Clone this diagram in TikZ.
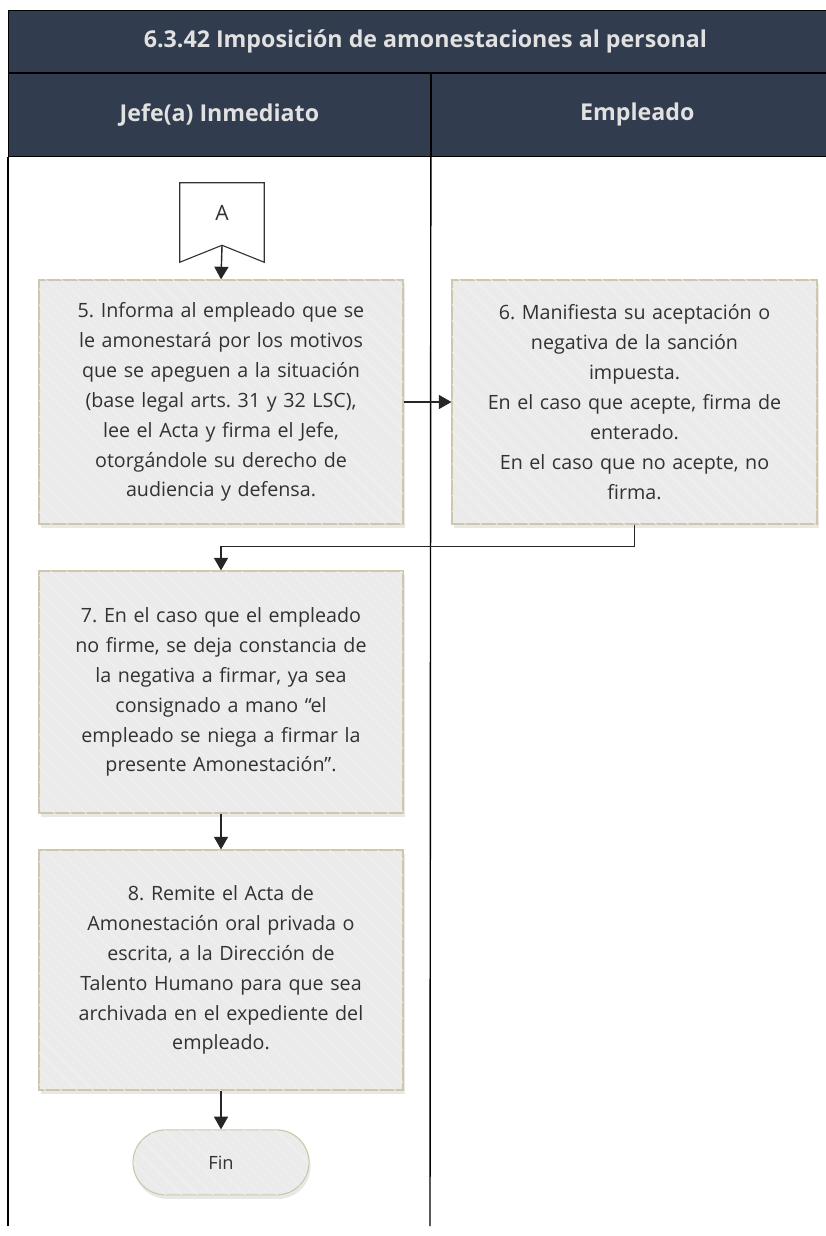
\documentclass[tikz,border=0pt]{standalone}
\usepackage{fontspec}
\setmainfont{Open Sans}
\usepackage{tikz}
\usetikzlibrary{calc}
\usetikzlibrary{arrows.meta}
\usetikzlibrary{positioning,shapes.misc,shadows}
\usetikzlibrary{patterns.meta}
\frenchspacing
\definecolor{hdrblue}{RGB}{49,60,78}
\definecolor{hdrtext}{RGB}{225,225,225}
\definecolor{boxfill}{RGB}{235,235,235}
\definecolor{boxline}{RGB}{206,199,172}
\definecolor{txtgray}{RGB}{50,50,50}
\tikzset{
    hdrband/.style={
        draw=black,
        line width=0.6pt,
        fill=hdrblue,
        text=hdrtext,
        anchor=north west,
        inner sep=0pt,
        font=\bfseries\fontsize{16.5}{20}\selectfont
    },
    % cajas de actividad
    actbox/.style={
        draw=boxline,
        line width=0.8pt,
        fill=boxfill,
        minimum width=9.1cm,
        minimum height=6.1cm,
        text width=8.8cm,
        align=center,
        inner sep=0pt,
        text=txtgray,
        font=\fontsize{14}{21.3}\selectfont,
        drop shadow={opacity=0.18, shadow xshift=0.04cm, shadow yshift=-0.1cm},
        postaction={pattern={Lines[angle=-45,distance=8pt,line width=0.5pt]}, pattern color=white!35!boxfill}
    },
    finbox/.style={
        rounded rectangle,
        draw=boxline,
        line width=0.8pt,
        fill=boxfill,
        minimum width=4.4cm,
        minimum height=1.625cm,
        inner sep=0pt,
        text=txtgray,
        font=\fontsize{13}{16}\selectfont,
        drop shadow={opacity=0.18, shadow xshift=0.04cm, shadow yshift=-0.1cm},
        postaction={pattern={Lines[angle=-45,distance=8pt,line width=0.5pt]}, pattern color=white!35!boxfill}
    },
    flowarrow/.style={
        line width=1pt,
        black!85,
        -{Triangle[length=9pt, width=10pt]}
    }
}

\begin{document}
\begin{tikzpicture}
        \useasboundingbox (0,0) rectangle (20.65,-30.9);

        % piscina y carriles
        \node[hdrband, minimum width=20.85cm, minimum height=1.55cm] (title) at (0.2,-0.25)
            {6.3.42 Imposición de amonestaciones al personal};
        \node[hdrband, minimum width=10.55cm, minimum height=2.075cm] (lanejefe) at (title.south west)
            {Jefe(a) Inmediato};
        \node[hdrband, minimum width=10.3cm, minimum height=2.075cm] (laneemp) at (lanejefe.north east)
            {Empleado};

        \path
        (0.2,-30.65) coordinate (jefeend)
        (10.75,-30.65) coordinate (empend)
        ;
        \draw[line width=1pt, black] (lanejefe.south west) -- (jefeend);
        \draw[line width=1pt, black] (lanejefe.south east) -- (empend);

        % conector A
        \node[minimum width=2.1cm, minimum height=1.975cm, inner sep=0pt] (conA) at (5.55,-5.5625) {};
        \path ($(conA.south)+(0,0.425)$) coordinate (notch);
        \draw[line width=0.8pt, black!80, fill=white]
            (conA.north west) -- (conA.north east) -- (conA.south east)
            -- (notch) -- (conA.south west) -- cycle;
        \node[text=txtgray, font=\fontsize{15}{18}\selectfont] (conAlbl) at ($(conA.center)+(0,0.25)$) {A};

        \node[actbox] (act5) at (5.525,-10.05)
            {5. Informa al empleado que se\\le amonestará por los motivos\\que se apeguen a la situación\\(base legal arts. 31 y 32 LSC),\\lee el Acta y firma el Jefe,\\otorgándole su derecho de\\audiencia y defensa.};
        \node[actbox, minimum width=9.125cm] (act6) at (15.8625,-10.05)
            {6. Manifiesta su aceptación o\\negativa de la sanción\\impuesta.\\En el caso que acepte, firma de\\enterado.\\En el caso que no acepte, no\\firma.};
        \node[actbox, minimum height=6.05cm] (act7) at (5.525,-17.3)
            {7. En el caso que el empleado\\no firme, se deja constancia de\\la negativa a firmar, ya sea\\consignado a mano “el\\empleado se niega a firmar la\\presente Amonestación”.};
        \node[actbox, minimum height=6cm] (act8) at (5.525,-24.25)
            {8. Remite el Acta de\\Amonestación oral privada o\\escrita, a la Dirección de\\Talento Humano para que sea\\archivada en el expediente del\\empleado.};
        \node[finbox] (fin) at (5.525,-29.06) {Fin};

        \draw[flowarrow] (notch) -- (act5.north);
        \draw[flowarrow] (act5.east) -- (act6.west);
        \draw[flowarrow] (act6.south) -- ++(0,-0.55) -| (act7.north);
        \draw[flowarrow] (act7.south) -- (act8.north);
        \draw[flowarrow] (act8.south) -- (fin.north);

\end{tikzpicture}
\end{document}
